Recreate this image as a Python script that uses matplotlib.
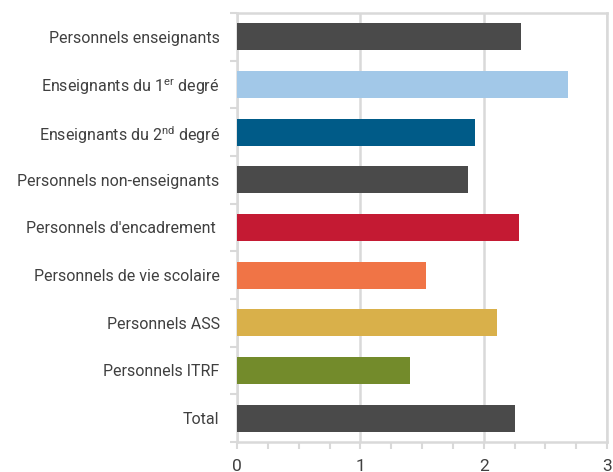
import matplotlib
matplotlib.use('Agg')
import matplotlib.pyplot as plt
from matplotlib.ticker import MultipleLocator, FixedLocator

plt.rcParams['font.family'] = ['Roboto', 'DejaVu Sans']
plt.rcParams['mathtext.fontset'] = 'custom'
plt.rcParams['mathtext.rm'] = 'Roboto'
plt.rcParams['mathtext.it'] = 'Roboto'

# data, top to bottom
categories = ['Personnels enseignants',
              r'Enseignants du 1$^{\mathrm{er}}$ degré',
              r'Enseignants du 2$^{\mathrm{nd}}$ degré',
              'Personnels non-enseignants',
              "Personnels d'encadrement ",
              'Personnels de vie scolaire',
              'Personnels ASS',
              'Personnels ITRF',
              'Total']
values = [2.30, 2.68, 1.93, 1.87, 2.29, 1.53, 2.11, 1.40, 2.25]
colors = ['#4a4a4a', '#a2c8e8', '#005b88', '#4a4a4a', '#c41a33',
          '#f07446', '#d9b04a', '#738b2b', '#4a4a4a']

fig = plt.figure(figsize=(6.13, 4.72), dpi=100)
ax = fig.add_axes([237/613, 1-442/472, 370/613, 429/472])

pos = list(range(len(categories)))[::-1]
ax.barh(pos, values, height=0.57, color=colors, zorder=3)

ax.set_xlim(0, 3)
ax.set_ylim(-0.5, len(categories)-0.5)
ax.set_yticks(pos)
ax.set_yticklabels(categories, fontsize=11.5, color='#404040')
ax.set_xticks([0, 1, 2, 3])
ax.set_xticklabels(['0', '1', '2', '3'], fontsize=12.5, color='#404040')
ax.xaxis.set_minor_locator(MultipleLocator(0.25))

ax.grid(axis='x', color='#d9d9d9', linewidth=1.8, zorder=0)
for s in ax.spines.values():
    s.set_color('#d9d9d9')
    s.set_linewidth(1.8)

# ticks on category boundaries on the y axis
ax.yaxis.set_minor_locator(FixedLocator([p + 0.5 for p in range(-1, len(categories))]))
ax.tick_params(axis='y', which='major', length=0, pad=12.5)
ax.tick_params(axis='y', which='minor', length=5, width=1.5, color='#d9d9d9')
ax.tick_params(axis='x', which='both', length=5, width=1.5, color='#d9d9d9', pad=7)

fig.savefig('out.png', dpi=100)
